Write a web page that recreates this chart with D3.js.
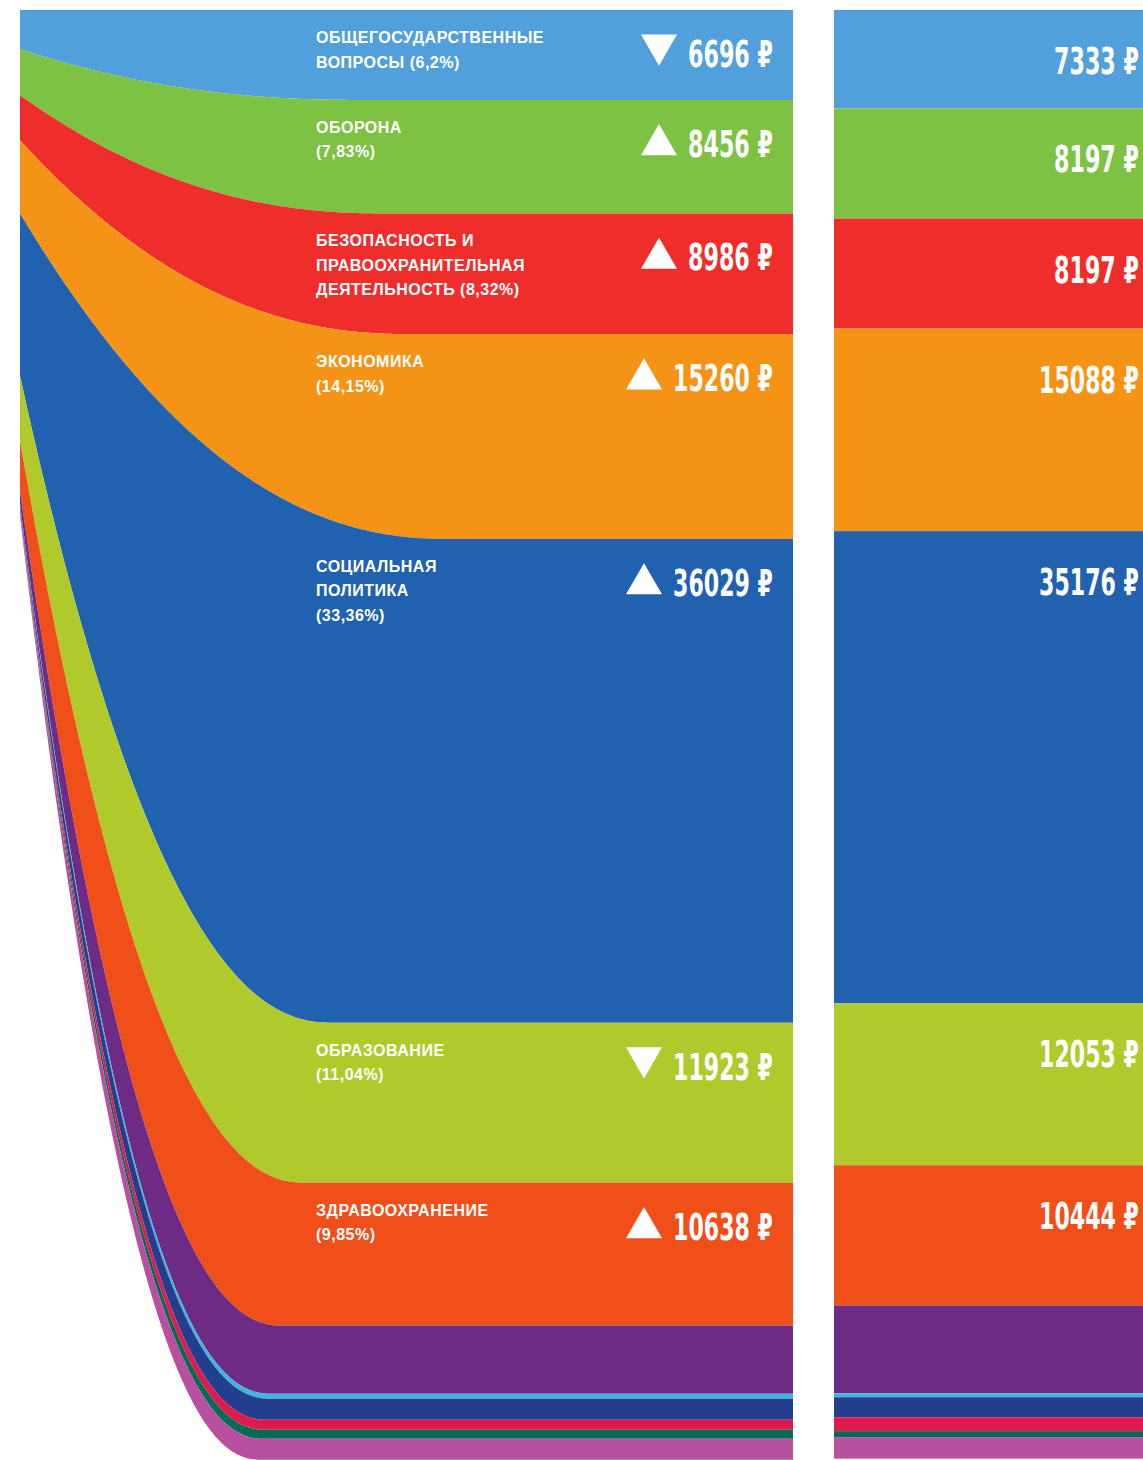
<!DOCTYPE html>
<html>
<head>
<meta charset="utf-8">
<title>Расходы бюджета</title>
<script src="https://d3js.org/d3.v7.min.js"></script>
<style>
  body { margin: 0; background: #fff; }
  svg { display: block; }
  .cat { font-family: "Liberation Sans", Arial, sans-serif; font-weight: bold; font-size: 16px; letter-spacing: 0.5px; fill: #fff; }
  .val { font-family: "DejaVu Sans", sans-serif; font-stretch: condensed; font-weight: bold; font-size: 37px; fill: #fff; }
</style>
</head>
<body>
<div id="chart"></div>
<script>
// categories, top to bottom (the last six are not labelled in the picture)
const categories = ["Общегосударственные вопросы", "Оборона", "Безопасность и правоохранительная деятельность",
  "Экономика", "Социальная политика", "Образование", "Здравоохранение",
  "Прочие 1", "Прочие 2", "Прочие 3", "Прочие 4", "Прочие 5", "Прочие 6"];
const labelLines = [
  ["ОБЩЕГОСУДАРСТВЕННЫЕ", "ВОПРОСЫ (6,2%)"],
  ["ОБОРОНА", "(7,83%)"],
  ["БЕЗОПАСНОСТЬ И", "ПРАВООХРАНИТЕЛЬНАЯ", "ДЕЯТЕЛЬНОСТЬ (8,32%)"],
  ["ЭКОНОМИКА", "(14,15%)"],
  ["СОЦИАЛЬНАЯ", "ПОЛИТИКА", "(33,36%)"],
  ["ОБРАЗОВАНИЕ", "(11,04%)"],
  ["ЗДРАВООХРАНЕНИЕ", "(9,85%)"],
  null, null, null, null, null, null];
// rubles per person, left panel (with arrows) and right panel
const valuesLeft  = [6696, 8456, 8986, 15260, 36029, 11923, 10638, 5075, 373, 1567, 746, 672, 1554];
const valuesRight = [7333, 8197, 8197, 15088, 35176, 12053, 10444, 6538, 300, 1486, 1040, 446, 1600];
// relative thickness of each band where the fan starts (left edge)
const fanStart    = [39, 46, 45, 73, 162, 65, 50, 13, 1.5, 3.5, 2, 1.5, 3.5];
const labelled = 7;
const colors = ["#52a0db", "#7dc242", "#ef2e2b", "#f59316", "#2062b0", "#afca2a", "#f04f1a",
  "#6e2b85", "#41b6dd", "#243e8e", "#e01a4f", "#026b55", "#b84f9f"];

const W = 1143, H = 1460;
const svg = d3.select("#chart").append("svg").attr("width", W).attr("height", H);

const idx = d3.range(categories.length);
const rows = [{ values: fanStart }, { values: valuesLeft }, { values: valuesRight }];
const series = d3.stack().keys(idx).value((r, k) => r.values[k])(rows);

const y = d3.scaleLinear().domain([0, 108000]).range([10, 1460]);
const yFan = d3.scaleLinear().domain([0, d3.sum(fanStart)]).range([10, 516]);
const x = d3.scaleLinear().domain([0, 1]).range([20, 793]);
const total = d3.sum(valuesLeft);
const ease = d3.easePolyOut.exponent(2.2);
// where each boundary levels off, by its depth in the stack
const flatAt = d3.scaleLinear().domain([0, 0.36, 0.7, 1]).range([340, 450, 330, 260]);

// boundary between bands: from fan edge to its level in the panel
function bound(vFan, v) {
  const y0 = yFan(vFan), y1 = y(v);
  const te = x.invert(flatAt(v / total));
  return t => y0 + (y1 - y0) * ease(Math.min(1, t / te));
}

const ts = d3.range(0, 1.0001, 0.0025);
const area = d3.area().x(t => x(t));

const left = svg.append("g");
series.forEach((s, i) => {
  const top = bound(s[0][0], s[1][0]);
  const bot = bound(s[0][1], s[1][1]);
  left.append("path")
    .datum(ts)
    .attr("fill", colors[i])
    .attr("d", area.y0(t => bot(t)).y1(t => top(t)));
});

// right panel: flat bands
const right = svg.append("g");
right.selectAll("rect")
  .data(series)
  .join("rect")
  .attr("x", 834)
  .attr("width", W - 834 + 10)
  .attr("y", s => y(s[2][0]))
  .attr("height", s => y(s[2][1]) - y(s[2][0]))
  .attr("fill", (s, i) => colors[i]);

// condensed figures: ~15px per digit plus the rouble sign
const valWidth = v => String(v).length * 15 + 25;

function valueText(xEnd, yBase, v) {
  const t = svg.append("text").attr("class", "val")
    .attr("text-anchor", "end")
    .text(v + " ₽");
  const sx = valWidth(v) / t.node().getComputedTextLength();
  t.attr("transform", `translate(${xEnd},${yBase}) scale(${sx},1)`);
  return t;
}

// labels
series.slice(0, labelled).forEach((s, i) => {
  const topL = y(s[1][0]);
  const t = svg.append("text").attr("class", "cat").attr("x", 316).attr("y", topL + 33);
  labelLines[i].forEach((line, j) => {
    t.append("tspan").attr("x", 316).attr("dy", j === 0 ? 0 : 24.5).text(line);
  });

  const base = topL + 57;
  valueText(773, base, valuesLeft[i]);
  const start = 773 - valWidth(valuesLeft[i]);
  const up = valuesLeft[i] > valuesRight[i];
  const tri = d3.symbol(d3.symbolTriangle, Math.sqrt(3) / 4 * 36 * 36);
  svg.append("path")
    .attr("d", tri())
    .attr("fill", "#fff")
    .attr("transform", `translate(${start - 11 - 18},${up ? base - 12 : base - 22}) rotate(${up ? 0 : 180})`);

  valueText(1139, y(s[2][0]) + 64, valuesRight[i]);
});
</script>
</body>
</html>
